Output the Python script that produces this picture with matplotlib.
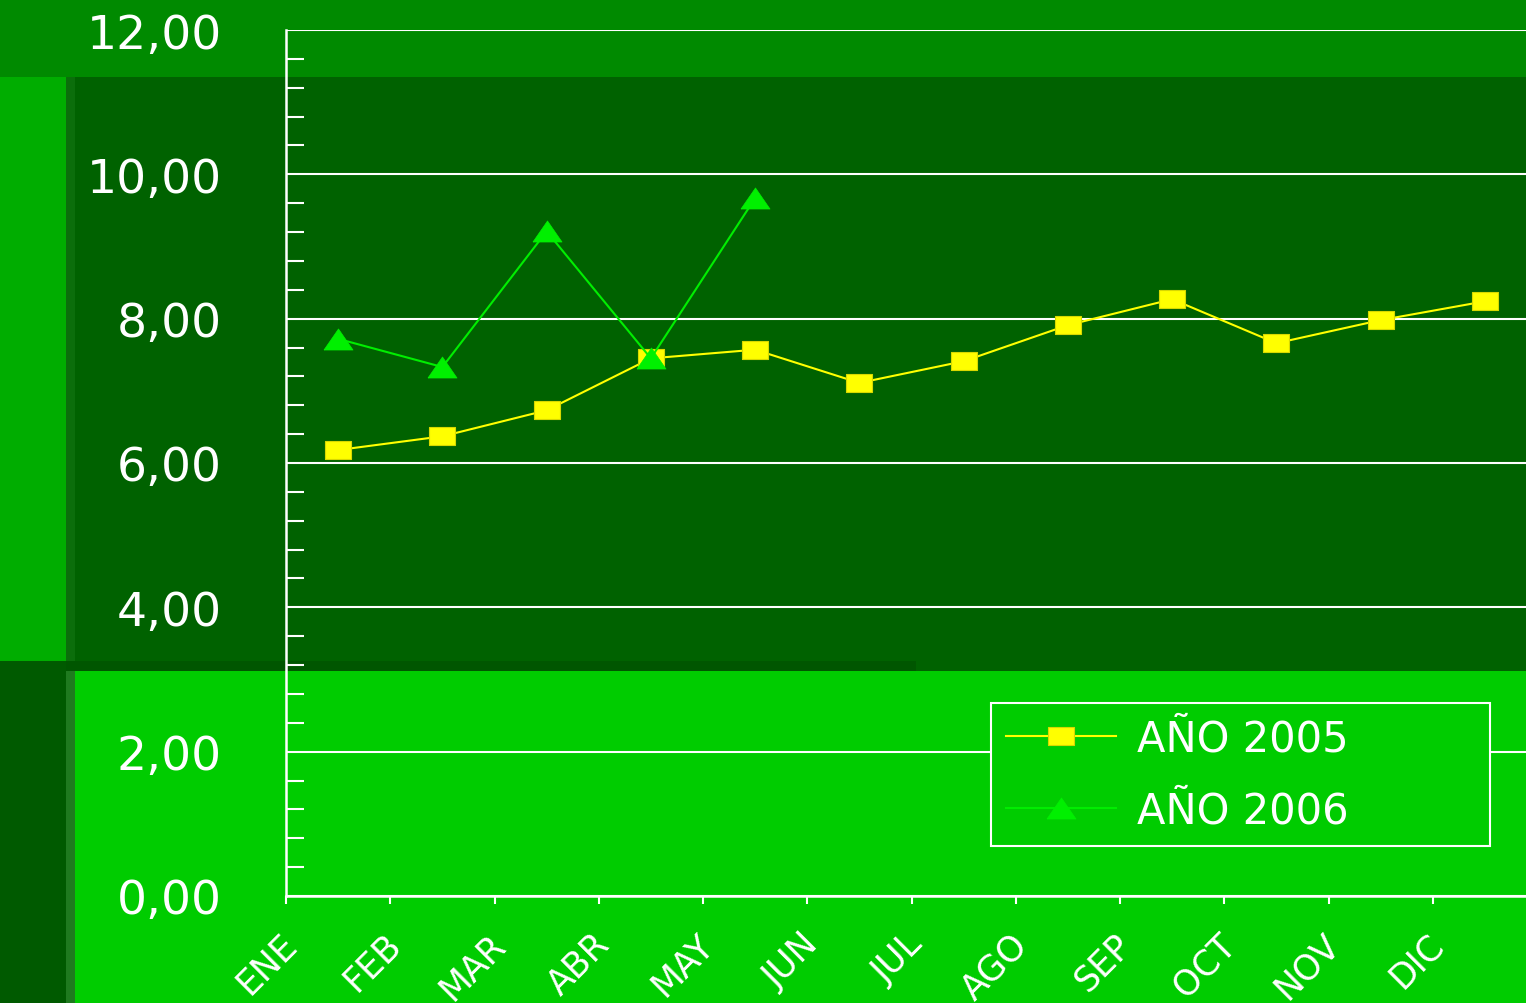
import numpy as np
import matplotlib
matplotlib.use('Agg')
import matplotlib.pyplot as plt
from matplotlib.patches import Rectangle
from matplotlib.lines import Line2D
from matplotlib.transforms import ScaledTranslation

# datos
meses = ['ENE', 'FEB', 'MAR', 'ABR', 'MAY', 'JUN',
         'JUL', 'AGO', 'SEP', 'OCT', 'NOV', 'DIC']
anio_2005 = [6.18, 6.37, 6.73, 7.45, 7.57, 7.11, 7.41, 7.91, 8.27, 7.66, 7.98, 8.24]
anio_2006 = [7.72, 7.33, 9.21, 7.45, 9.67]
y_ticks = [0, 2, 4, 6, 8, 10, 12]
y_labels = ['0,00', '2,00', '4,00', '6,00', '8,00', '10,00', '12,00']
series = ['AÑO 2005', 'AÑO 2006']

W, H = 1526, 1004
fig = plt.figure(figsize=(W / 100, H / 100), dpi=100, facecolor='#008a00')


def caja(x0, y0, x1, y1, color):
  # rectangulo de fondo en pixeles (origen arriba a la izquierda)
  fig.add_artist(Rectangle((x0 / W, 1 - y1 / H), (x1 - x0) / W, (y1 - y0) / H,
                           transform=fig.transFigure, facecolor=color,
                           edgecolor='none', zorder=-10))


# fondo en bloques
caja(0, 78, 66, 662, '#00ad00')
caja(66, 78, W, 672, '#006200')
caja(66, 78, 75, 662, '#0b6e0b')
caja(0, 662, 66, H, '#005a00')
caja(66, 672, 75, H, '#1f7a1f')
caja(75, 672, W, H, '#00cc00')
caja(66, 662, 916, 672, '#005600')

ax = fig.add_axes([286 / W, (H - 897) / H, (1537 - 286) / W, (897 - 31) / H])
ax.set_facecolor('none')
ax.set_xlim(0, 12)
ax.set_ylim(0, 12)

cuadro = [(-1.44, -1), (1.44, -1), (1.44, 1), (-1.44, 1), (-1.44, -1)]
triangulo = [(-1.38, -1), (1.38, -1), (0, 1), (-1.38, -1)]

x = np.arange(len(meses)) + 0.5
ax.plot(x, anio_2005, color='#ffff00', lw=1.5, marker=cuadro, ms=18.7,
        mfc='#ffff00', mec='#d8d800', mew=0.8, zorder=3)
ax.plot(x[:len(anio_2006)], anio_2006, color='#00ee00', lw=1.5, marker=triangulo,
        ms=20.9, mfc='#00f000', mec='#00f000', mew=0.5, zorder=4)

# ejes
for lado in ['top', 'right']:
  ax.spines[lado].set_visible(False)
for lado in ['left', 'bottom']:
  ax.spines[lado].set_color('white')
  ax.spines[lado].set_linewidth(1.8)

ax.set_yticks(y_ticks, y_labels)
ax.set_yticks(np.arange(0, 12.01, 0.4), minor=True)
ax.yaxis.grid(True, which='major', color='white', lw=1.5)
ax.tick_params(axis='y', which='major', length=0, pad=46, labelsize=34,
               labelcolor='white')
ax.tick_params(axis='y', which='minor', direction='in', length=13, width=1.5,
               color='white')

ax.set_xticks(range(len(meses)), meses)
ax.tick_params(axis='x', which='major', direction='out', length=6, width=1.5,
               color='white', labelsize=25, labelcolor='white', pad=16)
desplazar = ScaledTranslation(-6 / 100, 0, fig.dpi_scale_trans)
for etiqueta in ax.get_xticklabels():
  etiqueta.set_rotation(45)
  etiqueta.set_ha('right')
  etiqueta.set_rotation_mode('anchor')
  etiqueta.set_transform(etiqueta.get_transform() + desplazar)

# leyenda
manejadores = [
  Line2D([], [], color='#ffff00', lw=1.5, marker=cuadro, ms=18.7,
         mfc='#ffff00', mec='#d8d800', mew=0.8),
  Line2D([], [], color='#00ee00', lw=1.5, marker=triangulo, ms=20.9,
         mfc='#00f000', mec='#00f000', mew=0.5),
]
leg = ax.legend(manejadores, series, loc='center',
                bbox_to_anchor=(991 / W, 1 - 846 / H, 499 / W, 141 / H),
                bbox_transform=fig.transFigure, mode='expand', borderaxespad=0,
                fontsize=30, labelcolor='white', facecolor='#00cc00',
                edgecolor='white', framealpha=1, fancybox=False,
                handlelength=2.64, handletextpad=0.5, labelspacing=0.7,
                borderpad=0.36)
leg.get_frame().set_linewidth(1.5)

fig.savefig('out.png', dpi=100, facecolor=fig.get_facecolor())
